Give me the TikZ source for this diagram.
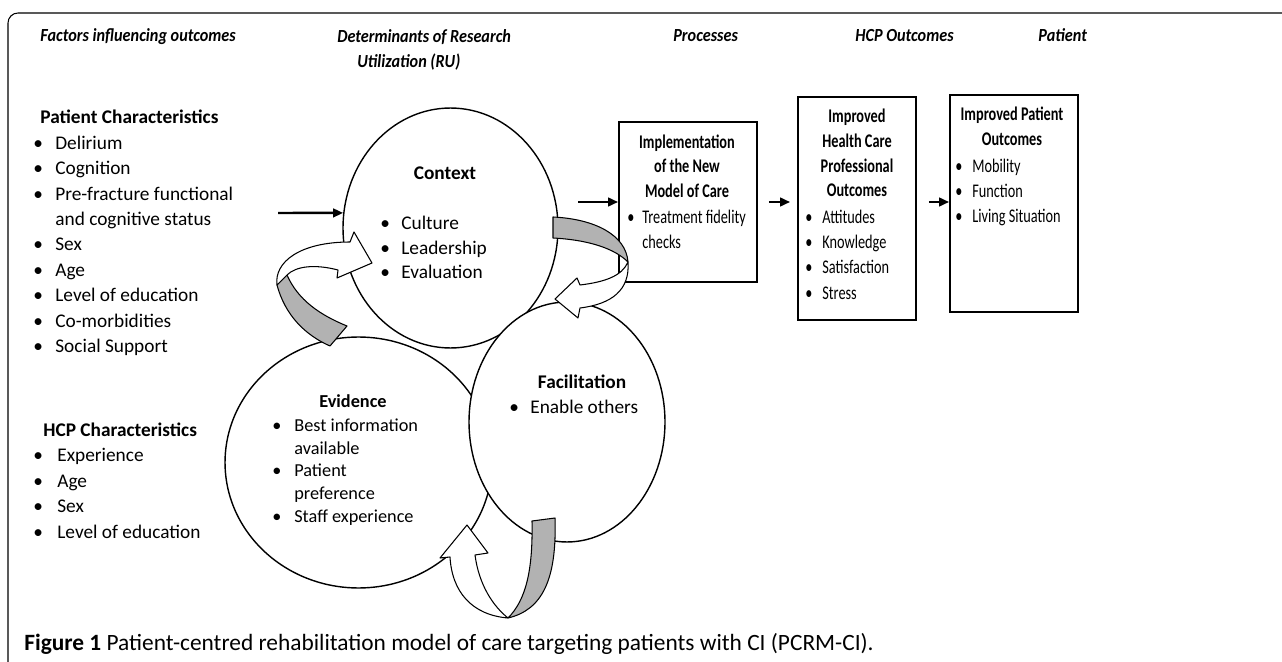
\documentclass[tikz,border=0pt]{standalone}
\usepackage{fontspec}
\setmainfont{Carlito}
\newfontfamily\boxfont[FakeStretch=0.74]{Carlito}
\newfontfamily\hdrfont[FakeStretch=0.88]{Carlito}
\usetikzlibrary{shapes.geometric,arrows.meta}
\newcommand\bul[2][0.44cm]{\makebox[#1][l]{\textbullet}#2}

\begin{document}
\begin{tikzpicture}[x=0.02cm, y=-0.02cm,
  every node/.style={inner sep=0pt},
  % multi-line nodes sit on the baseline of their last line
  hdr/.style={font=\hdrfont\fontsize{10.5}{14.7}\selectfont\bfseries\itshape, anchor=base west, align=left},
  lst/.style={font=\fontsize{11}{14.5}\selectfont, anchor=base west, align=left},
  ttl/.style={font=\fontsize{11}{14.5}\selectfont\bfseries, anchor=base},
  boxlst/.style={font=\boxfont\fontsize{11}{14.4}\selectfont, anchor=base west, align=left},
  boxttl/.style={font=\boxfont\fontsize{11}{14}\selectfont\bfseries, anchor=base, align=center},
  ring/.style={ellipse, draw, line width=0.8pt, fill=white},
  card/.style={draw, line width=1pt, fill=white},
  flow/.style={line width=1.4pt, -{Triangle[length=0.2cm, width=0.17cm]}},
  band/.style={draw, line width=0.6pt, fill=black!30, line join=round},
  twarrow/.style={draw, line width=0.6pt, fill=white, line join=round}]
\useasboundingbox (0,0) rectangle (1282,662);

% open frame
\draw [line width=0.6pt, rounded corners=0.2cm] (1282,13) -- (8,13) -- (8,662);

% column headings
\node [hdr] (hdrfac) at (40,42) {Factors influencing outcomes};
\node [hdr] (hdrdet) at (337,68) {Determinants of Research\\\hspace*{0.4cm}Utilization (RU)};
\node [hdr] (hdrproc) at (673,42) {Processes};
\node [hdr] (hdrhcp) at (855,42) {HCP Outcomes};
\node [hdr] (hdrpat) at (1038,42) {Patient};

% factors
\node [lst] (patchar) at (33,352.9) {\hspace*{0.14cm}\textbf{Patient Characteristics}\\
  \bul{Delirium}\\ \bul{Cognition}\\ \bul{Pre-fracture functional}\\
  \hspace*{0.44cm}and cognitive status\\ \bul{Sex}\\ \bul{Age}\\
  \bul{Level of education}\\ \bul{Co-morbidities}\\ \bul{Social Support}};
\node [lst] (hcpchar) at (33,538.4) {\hspace*{0.2cm}\textbf{HCP Characteristics}\\
  \bul[0.48cm]{Experience}\\ \bul[0.48cm]{Age}\\ \bul[0.48cm]{Sex}\\
  \bul[0.48cm]{Level of education}};

% determinants of RU
\node [ring, minimum width=4.3cm, minimum height=4.8cm] (ctx) at (450.5,228) {};
\node [ring, minimum width=5.34cm, minimum height=5.02cm] (evd) at (358.5,462.5) {};
\node [ring, minimum width=3.92cm, minimum height=4.8cm] (fac) at (567,422) {};

\node [ttl] (ctxtitle) at (445,180) {Context};
\node [lst, font=\fontsize{11}{14.2}\selectfont] (ctxlist) at (380,279)
  {\bul[0.42cm]{Culture}\\ \bul[0.42cm]{Leadership}\\ \bul[0.42cm]{Evaluation}};
\node [ttl, font=\fontsize{10.4}{12.9}\selectfont\bfseries] (evdtitle) at (353,407) {Evidence};
\node [lst, font=\fontsize{10.4}{12.9}\selectfont] (evdlist) at (272,522)
  {\bul{Best information}\\ \hspace*{0.44cm}available\\ \bul{Patient}\\
  \hspace*{0.44cm}preference\\ \bul{Staff experience}};
\node [ttl] (factitle) at (582,388) {Facilitation};
\node [lst] (faclist) at (509,414) {\bul[0.42cm]{Enable others}};

% processes and outcomes
\node [card, minimum width=2.76cm, minimum height=3.2cm] (impl) at (688,202) {};
\node [boxttl] (impltitle) at (687,197.4) {Implementation\\of the New\\Model of Care};
\node [boxlst] (impllist) at (627,248.4) {\bul[0.3cm]{Treatment fidelity}\\ \hspace*{0.3cm}checks};

\node [card, minimum width=2.36cm, minimum height=4.46cm] (hcpout) at (857,208.5) {};
\node [boxttl, font=\boxfont\fontsize{11}{14.2}\selectfont\bfseries] (hcptitle) at (857,197)
  {Improved\\Health Care\\Professional\\Outcomes};
\node [boxlst] (hcplist) at (805,299.2) {\bul[0.34cm]{Attitudes}\\ \bul[0.34cm]{Knowledge}\\
  \bul[0.34cm]{Satisfaction}\\ \bul[0.34cm]{Stress}};

\node [card, minimum width=2.56cm, minimum height=4.34cm] (patout) at (1014,203.5) {};
\node [boxttl, font=\boxfont\fontsize{11}{14.6}\selectfont\bfseries] (pattitle) at (1012,146)
  {Improved Patient\\Outcomes};
\node [boxlst] (patlist) at (955,222.8) {\bul[0.34cm]{Mobility}\\ \bul[0.34cm]{Function}\\
  \bul[0.34cm]{Living Situation}};

% straight arrows
\coordinate (intail) at (278,213);
\coordinate (ctxout) at (578,202);
\draw [flow] (intail) -- (ctx.172);
\draw [flow] (ctxout) -- (impl.west);
\draw [flow, shorten <=0.22cm, shorten >=0.14cm] (impl.east) -- (impl.east -| hcpout.west);
\draw [flow, shorten <=0.24cm] (hcpout.east |- impl.east) -- (impl.east -| patout.west);

% twisted arrows between the rings
\draw [band] (277,285) .. controls (285,315) and (305,335) .. (330,346) -- (347,326)
  .. controls (320,315) and (298,300) .. (287,275) -- cycle;
\draw [twarrow] (277,285) .. controls (274,262) and (300,242) .. (350,242) -- (354,232)
  -- (372,263) -- (337,278) -- (338,270) .. controls (315,264) and (296,266) .. (287,275) -- cycle;
\draw [band] (553,217) .. controls (595,219) and (626,235) .. (628,262)
  .. controls (615,249) and (590,240) .. (553,238) -- cycle;
\draw [twarrow] (628,262) .. controls (630,290) and (612,304) .. (580,308) -- (578,318)
  -- (555,299) -- (577,278) -- (580,285) .. controls (605,282) and (622,276) .. (628,262) -- cycle;
\draw [band] (532,521) -- (555,518) .. controls (557,580) and (542,610) .. (508,618)
  .. controls (526,600) and (533,570) .. (532,521) -- cycle;
\draw [twarrow] (508,618) .. controls (472,615) and (452,592) .. (450,557) -- (440,558)
  -- (467,525) -- (488,553) -- (475,555) .. controls (479,585) and (493,606) .. (508,618) -- cycle;

% caption
\node [anchor=base west, font=\fontsize{13.3}{16}\selectfont] (caption) at (24,650)
  {\textbf{Figure 1} Patient-centred rehabilitation model of care targeting patients with CI (PCRM-CI).};
\end{tikzpicture}
\end{document}
